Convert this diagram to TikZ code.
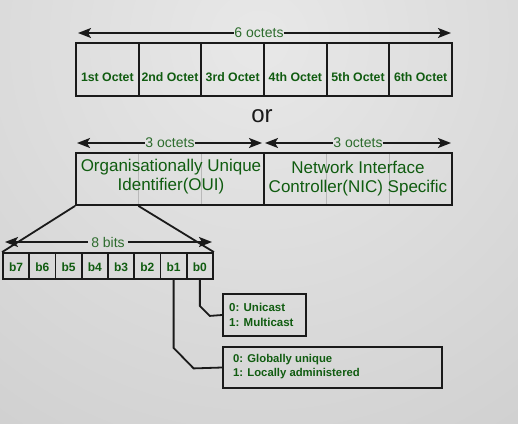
\documentclass[tikz,border=0pt]{standalone}
\usepackage{fontspec}
\setmainfont{Liberation Sans}
\usetikzlibrary{arrows.meta,calc}
\definecolor{bgin}{HTML}{E8E8E8}
\definecolor{bgout}{HTML}{B6B6B6}
\definecolor{tgreen}{RGB}{16,92,16}
\definecolor{lgreen}{RGB}{45,108,45}
\definecolor{ink}{HTML}{1A1A1A}
\pgfdeclareradialshading{bgshade}{\pgfpoint{0bp}{0bp}}{color(0bp)=(bgin); color(50bp)=(bgout)}
\begin{document}
\begin{tikzpicture}[x=1pt,y=-1pt,
  line/.style={draw=ink, line width=1.8pt},
  tipl/.style={{Stealth[length=13pt,width=10pt,inset=3pt]}-},
  tipr/.style={-{Stealth[length=13pt,width=10pt,inset=3pt]}},
  octcell/.style={draw=ink, line width=1.8pt, minimum width=62.67pt, minimum height=53pt, inner sep=0pt},
  octtext/.style={text=tgreen, font=\fontsize{12.3}{12}\selectfont\bfseries, inner sep=0pt, anchor=base},
  bigbox/.style={draw=ink, line width=1.8pt, minimum width=188pt, minimum height=52pt, inner sep=0pt},
  bigtext/.style={text=tgreen, font=\fontsize{17}{19}\selectfont, align=center, inner sep=0pt},
  bitcell/.style={draw=ink, line width=1.8pt, minimum width=26.25pt, minimum height=26pt, inner sep=0pt},
  bittext/.style={text=tgreen, font=\fontsize{12}{12}\selectfont\bfseries, inner sep=0pt, anchor=base},
  arrlbl/.style={text=lgreen, font=\fontsize{14}{14}\selectfont, inner sep=0pt},
  infobox/.style={draw=ink, line width=1.8pt, inner sep=0pt},
  infotext/.style={text=tgreen, font=\fontsize{11}{14}\selectfont\bfseries, align=left, inner sep=0pt, anchor=west},
  divline/.style={draw=gray!55, line width=0.8pt}
]
% background
\begin{scope}
\clip (0,0) rectangle (518,423);
\shade[shading=bgshade] (259,40) circle (500);
\end{scope}
\useasboundingbox (0,0) rectangle (518,423);

% ---- top row: 6 octets ----
\node[arrlbl] (l6) at (259,33) {6 octets};
\coordinate (t6l) at (78,33);
\coordinate (t6r) at (451,33);
\draw[line, tipl] (t6l) -- (l6.west);
\draw[line, tipr] (l6.east) -- (t6r);

\foreach \i/\t in {1/1st Octet,2/2nd Octet,3/3rd Octet,4/4th Octet,5/5th Octet,6/6th Octet}{
  \node[octcell] (o\i) at ({76+62.667*(\i-0.5)},69.5) {};
  \node[octtext] (ot\i) at ({76+62.667*(\i-0.5)},81) {\t};
}

% ---- or ----
\node[font=\fontsize{24}{24}\selectfont, text=ink, inner sep=0pt] (or) at (262,116) {or};

% ---- second row ----
\node[arrlbl] (l3a) at (170,143) {3 octets};
\node[arrlbl] (l3b) at (358,143) {3 octets};
\coordinate (s1l) at (77,143);
\coordinate (s1r) at (262,143);
\coordinate (s2l) at (265,143);
\coordinate (s2r) at (451,143);
\draw[line, tipl] (s1l) -- (l3a.west);
\draw[line, tipr] (l3a.east) -- (s1r);
\draw[line, tipl] (s2l) -- (l3b.west);
\draw[line, tipr] (l3b.east) -- (s2r);

\node[bigbox] (oui) at (170,179) {};
\node[bigbox] (nic) at (358,179) {};
\coordinate (ouid1) at ($(oui.south west)!1/3!(oui.south east)$);
\coordinate (ouid1t) at ($(oui.north west)!1/3!(oui.north east)$);
\coordinate (ouid2) at ($(oui.south west)!2/3!(oui.south east)$);
\coordinate (ouid2t) at ($(oui.north west)!2/3!(oui.north east)$);
\coordinate (nicd1) at ($(nic.south west)!1/3!(nic.south east)$);
\coordinate (nicd1t) at ($(nic.north west)!1/3!(nic.north east)$);
\coordinate (nicd2) at ($(nic.south west)!2/3!(nic.south east)$);
\coordinate (nicd2t) at ($(nic.north west)!2/3!(nic.north east)$);
\draw[divline] (ouid1t) -- (ouid1);
\draw[divline] (ouid2t) -- (ouid2);
\draw[divline] (nicd1t) -- (nicd1);
\draw[divline] (nicd2t) -- (nicd2);
\node[bigbox] at (oui) {};
\node[bigbox] at (nic) {};
\node[bigtext] (ouit) at (171,177) {Organisationally Unique\\Identifier(OUI)};
\node[bigtext] (nict) at (358,179) {Network Interface\\Controller(NIC) Specific};

% ---- bits row ----
\foreach \i/\t [count=\k from 0] in {7/b7,6/b6,5/b5,4/b4,3/b3,2/b2,1/b1,0/b0}{
  \node[bitcell] (b\i) at ({3+26.25*(\k+0.5)},266) {};
  \node[bittext] (bt\i) at ({3+26.25*(\k+0.5)},271) {\t};
}
\draw[line] (oui.south west) -- (b7.north west);
\draw[line] (ouid1) -- (b0.north east);

\node[arrlbl, inner xsep=3pt] (l8) at (108,242) {8 bits};
\coordinate (bl) at (5,242);
\coordinate (br) at (212,242);
\draw[line, tipl] (bl) -- (l8.west);
\draw[line, tipr] (l8.east) -- (br);

% ---- info boxes ----
\node[infobox, minimum width=83pt, minimum height=42pt] (uni) at (264.5,315) {};
\node[infotext, font=\fontsize{11.5}{15}\selectfont\bfseries] (unit) at (229,314.5) {0: Unicast\\1: Multicast};
\node[infobox, minimum width=219pt, minimum height=41pt] (glob) at (332.5,367.5) {};
\node[infotext, font=\fontsize{11.3}{13.5}\selectfont\bfseries] (globt) at (233,366.5) {0: Globally unique\\1: Locally administered};

\draw[line] (b0.south) -- ++(0,26) -- ++(10,10) -- (uni.west);
\draw[line] (b1.south) -- ++(0,68) -- ++(20,20.5) -- (glob.west);
\end{tikzpicture}
\end{document}
